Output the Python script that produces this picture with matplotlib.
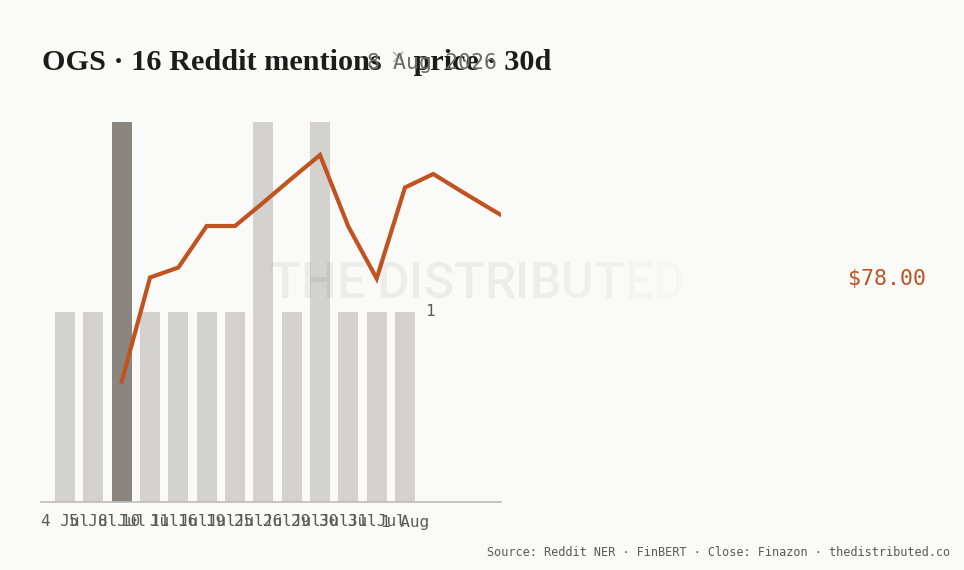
import matplotlib
matplotlib.use("Agg")
import matplotlib.pyplot as plt
import matplotlib.transforms as mtransforms

# mention counts per day (16 total)
days = ["4 Jul", "5 Jul", "8 Jul", "10 Jul", "11 Jul", "16 Jul", "19 Jul",
        "25 Jul", "26 Jul", "29 Jul", "30 Jul", "31 Jul", "1 Aug"]
mentions = [1, 1, 2, 1, 1, 1, 1, 2, 1, 2, 1, 1, 1]
peak_day = 2

# close prices, placed on the same slot scale as the bars
price_x = [2, 3, 4, 5, 6, 7, 8, 9, 10, 11, 12, 13, 14, 15, 16]
price = [75.95, 78.03, 78.23, 79.06, 79.06, 79.53, 80.01, 80.48,
         79.05, 78.01, 79.83, 80.10, 79.75, 79.41, 79.08]
last_close = 78.00

BG = "#fafaf8"
BAR = "#d3d2ce"
BAR_HI = "#8a857e"
RUST = "#c0531f"
INK = "#1c1c1c"
MUTED = "#5a5a5a"

fig = plt.figure(figsize=(9.64, 5.70), dpi=100, facecolor=BG)
ax = fig.add_axes([41 / 964, 68 / 570, 460 / 964, 380 / 570])
ax.set_facecolor(BG)

colors = [BAR_HI if i == peak_day else BAR for i in range(len(mentions))]
ax.bar(range(len(mentions)), mentions, width=0.71, color=colors, zorder=2)
ax.set_xlim(-0.85, 15.39)
ax.set_ylim(0, 2)
for s in ["top", "right", "left"]:
    ax.spines[s].set_visible(False)
ax.spines["bottom"].set_color("#bdbcb8")
ax.spines["bottom"].set_linewidth(1.2)
ax.set_yticks([])
ax.set_xticks(range(len(days)))
ax.set_xticklabels(days, family="DejaVu Sans Mono", fontsize=11.5, color=MUTED)
ax.tick_params(axis="x", length=0, pad=9)
ax.text(12.72, 1, "1", va="center", ha="left", family="DejaVu Sans Mono",
        fontsize=11.5, color=MUTED)

ax2 = ax.twinx()
ax2.set_ylim(73.54, 81.14)
ax2.axis("off")
ax2.plot(price_x, price, color=RUST, lw=3, solid_joinstyle="miter", zorder=3)

tr = mtransforms.blended_transform_factory(fig.transFigure, ax2.transData)
ax2.text(848 / 964, last_close, f"${last_close:.2f}", transform=tr, va="center",
         ha="left", family="DejaVu Sans Mono", fontsize=15.5, color=RUST)

fig.canvas.draw()
r = fig.canvas.get_renderer()

# watermark, fading out towards the right
wm = "THE DISTRIBUTED"
fade = [0.055] * 10 + [0.05, 0.045, 0.038, 0.025, 0.015]
x = 270
for ch, a in zip(wm, fade):
    t = fig.text(x / 964, 1 - 284 / 570, ch, fontsize=36, family="Roboto",
                 weight="medium", color="#000000", alpha=a, va="center",
                 ha="left")
    x = t.get_window_extent(r).x1

# title in pieces so the multiplication sign can be lighter
tfont = dict(family="Liberation Serif", weight="bold", fontsize=21.8)
t1 = fig.text(42 / 964, 1 - 76 / 570, "OGS · 16 Reddit mentions ",
              color=INK, va="bottom", ha="left", **tfont)
t2 = fig.text(0, 0, "×", color="#b5b5b5", va="bottom", ha="left",
              family="DejaVu Sans", fontsize=14)
t3 = fig.text(0, 0, " price · 30d", color=INK, va="bottom", ha="left", **tfont)
b1 = t1.get_window_extent(r)
t2.set_position((b1.x1 / 964, (b1.y0 + 8) / 570))
b2 = t2.get_window_extent(r)
t3.set_position((b2.x1 / 964, b1.y0 / 570))

fig.text(367 / 964, 1 - 63 / 570, "8 Aug 2026", color="#6b6b6b", va="center",
         ha="left", family="DejaVu Sans Mono", fontsize=15.5)

fig.text(950 / 964, 1 - 553 / 570,
         "Source: Reddit NER · FinBERT · Close: Finazon · thedistributed.co",
         ha="right", va="center", family="DejaVu Sans Mono", fontsize=8.6,
         color=MUTED)

fig.savefig("out.png", dpi=100, facecolor=BG)
